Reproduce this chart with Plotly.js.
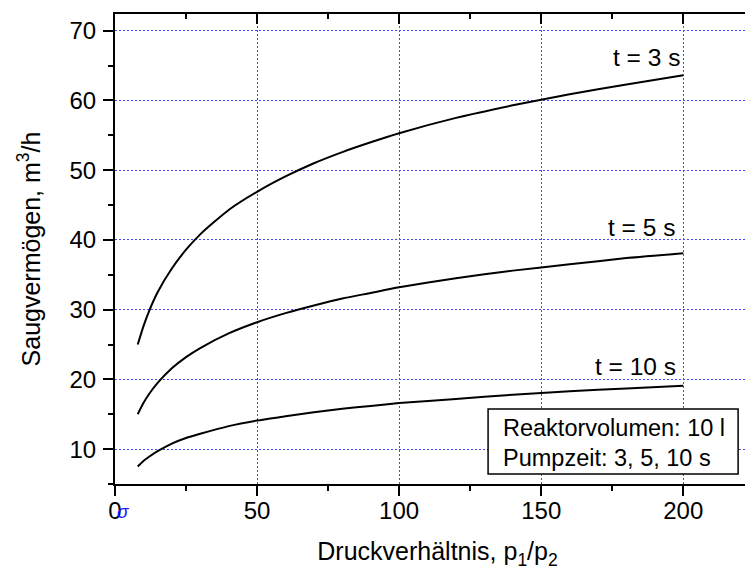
<!DOCTYPE html>
<html>
<head>
<meta charset="utf-8">
<script src="https://cdn.plot.ly/plotly-3.0.1.min.js"></script>
<style>
html,body{margin:0;padding:0;overflow:hidden;background:#fff;width:745px;height:583px;}
#chart{width:780px;height:583px;}
</style>
</head>
<body>
<div id="chart"></div>
<script>
// Pressure ratio p1/p2
const ratio = [8, 10, 12, 15, 20, 25, 30, 40, 50, 60, 70, 80, 90, 100, 120, 140, 160, 180, 200];
// Pumping speed (m3/h) for each pump time
const speed3s  = [25.0, 27.6, 29.8, 32.5, 35.9, 38.6, 40.8, 44.3, 46.9, 49.1, 51.0, 52.6, 54.0, 55.3, 57.5, 59.3, 60.9, 62.3, 63.6];
const speed5s  = [15.0, 16.6, 17.9, 19.5, 21.6, 23.2, 24.5, 26.6, 28.2, 29.5, 30.6, 31.6, 32.4, 33.2, 34.5, 35.6, 36.5, 37.4, 38.1];
const speed10s = [7.5, 8.3, 8.9, 9.7, 10.8, 11.6, 12.2, 13.3, 14.1, 14.7, 15.3, 15.8, 16.2, 16.6, 17.2, 17.8, 18.3, 18.7, 19.1];
const seriesLabels = ['t = 3 s', 't = 5 s', 't = 10 s'];
const xTicks = [0, 50, 100, 150, 200];
const yTicks = [10, 20, 30, 40, 50, 60, 70];
const infoLines = ['Reaktorvolumen: 10 l', 'Pumpzeit: 3, 5, 10 s'];

const FONT = 'Arial, "Liberation Sans", sans-serif';
const lineStyle = {color: '#000', width: 2, shape: 'spline', smoothing: 0.6};
const traces = [speed3s, speed5s, speed10s].map((ys, i) => ({
  x: ratio, y: ys, type: 'scatter', mode: 'lines', name: seriesLabels[i],
  line: lineStyle, hoverinfo: 'x+y'
}));
// dummy trace for top axis
traces.push({x: [0], y: [null], xaxis: 'x2', yaxis: 'y', mode: 'lines', showlegend: false, hoverinfo: 'skip'});

const gridStyle = {showgrid: true, gridcolor: '#4646ff', griddash: '2px,2px', gridwidth: 1};
const layout = {
  width: 780, height: 583,
  margin: {l: 115, r: 20, t: 14, b: 99},
  paper_bgcolor: '#fff', plot_bgcolor: '#fff',
  showlegend: false,
  font: {family: FONT, size: 24, color: '#000'},
  xaxis: Object.assign({
    range: [0, 227], tickvals: xTicks, ticktext: xTicks.map(String),
    ticks: 'outside', ticklen: 10, tickwidth: 2, tickcolor: '#000',
    showline: true, linewidth: 2, linecolor: '#000', zeroline: false,
    minor: {dtick: 25, tick0: 0, ticks: 'outside', ticklen: 5, tickwidth: 2, tickcolor: '#000', showgrid: false},
    tickfont: {size: 24},
    ticklabelstandoff: -6,
    title: {text: 'Druckverhältnis, p<sub>1</sub>/p<sub>2</sub>', font: {size: 25}, standoff: 20}
  }, gridStyle),
  xaxis2: {
    overlaying: 'x', side: 'top', anchor: 'y', range: [0, 227], tickvals: xTicks,
    showticklabels: false, ticks: 'inside', ticklen: 10, tickwidth: 2, tickcolor: '#000',
    showline: true, linewidth: 2, linecolor: '#000', showgrid: false, zeroline: false,
    minor: {dtick: 25, tick0: 0, ticks: 'inside', ticklen: 5, tickwidth: 2, tickcolor: '#000', showgrid: false}
  },
  yaxis: Object.assign({
    range: [5, 72.4], tickvals: yTicks, ticktext: yTicks.map(String),
    ticks: 'outside', ticklen: 10, tickwidth: 2, tickcolor: '#000',
    showline: true, linewidth: 2, linecolor: '#000', zeroline: false, mirror: true,
    minor: {dtick: 5, tick0: 0, ticks: 'outside', ticklen: 5, tickwidth: 2, tickcolor: '#000', showgrid: false},
    tickfont: {size: 24},
    ticklabelstandoff: 2,
    title: {text: 'Saugvermögen, m<sup>3</sup>/h', font: {size: 25}, standoff: 22}
  }, gridStyle),
  shapes: [{type: 'rect', xref: 'x', yref: 'y', x0: 131.3, x1: 219.3, y0: 6.43, y1: 15.75,
            line: {color: '#000', width: 1.5}, fillcolor: '#fff', layer: 'above'}],
  annotations: [
    {text: seriesLabels[0], x: 199.6, y: 66.1, xanchor: 'right', yanchor: 'middle'},
    {text: seriesLabels[1], x: 197.8, y: 41.85, xanchor: 'right', yanchor: 'middle'},
    {text: seriesLabels[2], x: 198.2, y: 21.78, xanchor: 'right', yanchor: 'middle'},
    {text: infoLines[0], x: 135.8, y: 13.03, xanchor: 'left', yanchor: 'middle', font: {size: 23.5}},
    {text: infoLines[1], x: 135.8, y: 8.73, xanchor: 'left', yanchor: 'middle', font: {size: 23.5}},
    {text: '<i>σ</i>', xref: 'paper', yref: 'paper', x: 0.013, y: -0.058, xanchor: 'center', yanchor: 'middle',
     font: {size: 19, color: '#1a1aff'}}
  ].map(a => Object.assign({xref: 'x', yref: 'y', showarrow: false, font: {size: 24.5}}, a))
};
Plotly.newPlot('chart', traces, layout, {displayModeBar: false, staticPlot: true});
</script>
</body>
</html>
